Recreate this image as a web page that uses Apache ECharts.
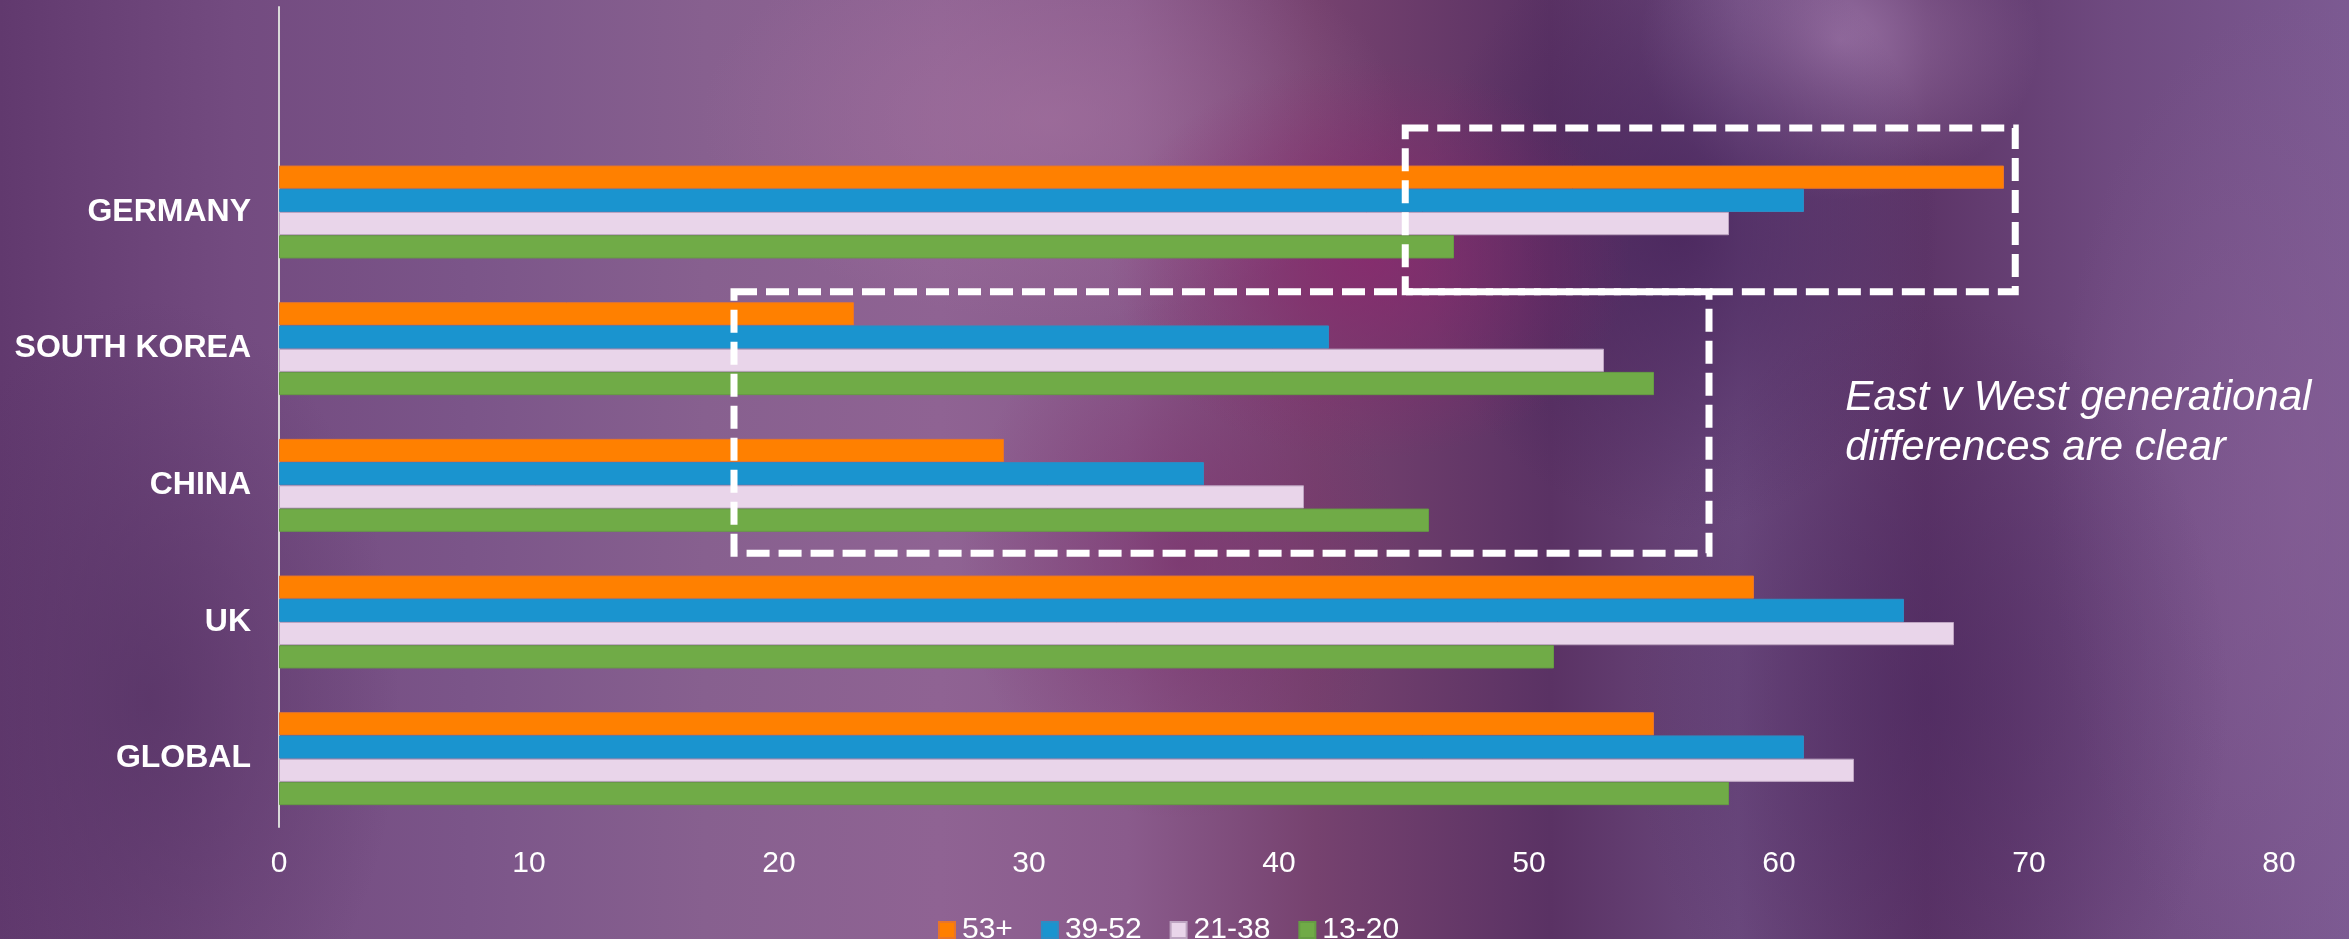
<!DOCTYPE html>
<html>
<head>
<meta charset="utf-8">
<script src="https://cdn.jsdelivr.net/npm/echarts@6/dist/echarts.min.js"></script>
<style>
  html, body { margin: 0; padding: 0; width: 2349px; height: 939px; overflow: hidden; }
  body {
    background:
      radial-gradient(ellipse 260px 200px at 1370px 260px, rgba(140,40,110,0.75), rgba(140,40,110,0) 100%),
      radial-gradient(ellipse 220px 260px at 1180px 560px, rgba(120,40,100,0.55), rgba(120,40,100,0) 100%),
      radial-gradient(ellipse 260px 300px at 1680px 230px, rgba(70,35,90,0.8), rgba(70,35,90,0) 100%),
      radial-gradient(ellipse 200px 160px at 1840px 40px, rgba(170,130,180,0.7), rgba(170,130,180,0) 100%),
      radial-gradient(ellipse 300px 400px at 1930px 700px, rgba(75,40,95,0.6), rgba(75,40,95,0) 100%),
      radial-gradient(ellipse 250px 500px at 2300px 500px, rgba(135,95,150,0.6), rgba(135,95,150,0) 100%),
      radial-gradient(ellipse 350px 200px at 1050px 120px, rgba(165,115,160,0.6), rgba(165,115,160,0) 100%),
      radial-gradient(ellipse 250px 400px at 150px 700px, rgba(85,50,100,0.7), rgba(85,50,100,0) 100%),
      linear-gradient(90deg, #61396e 0%, #734b80 10%, #7b5589 20%, #87608f 30%, #8f6393 40%, #8a5b8c 48%, #76426f 56%, #5a3264 66%, #6c4a7f 74%, #5d3568 82%, #6f4a80 90%, #7c5a92 100%);
  }
  #chart { width: 2349px; height: 939px; }
</style>
</head>
<body>
<div id="chart"></div>
<script>
// ---- data ----
const categories = ['', 'GERMANY', 'SOUTH KOREA', 'CHINA', 'UK', 'GLOBAL'];
const seriesNames = ['53+', '39-52', '21-38', '13-20'];
const values53plus = [null, 69, 23, 29, 59, 55];
const values39to52 = [null, 61, 42, 37, 65, 61];
const values21to38 = [null, 58, 53, 41, 67, 63];
const values13to20 = [null, 47, 55, 46, 51, 58];
const xMin = 0, xMax = 80, xInterval = 10;
const annotationText = 'East v West generational\ndifferences are clear';
// annotation boxes: x in value units, y in category-index units
const boxWest = { x0: 45.05, x1: 69.45, y0: 0.386, y1: 1.583 };
const boxEast = { x0: 18.2, x1: 57.2, y0: 1.583, y1: 3.497 };

const colors = ['#ff8000', '#1a94cf', '#e9d5ea', '#70ab47'];
const borders = ['#e8752a', '#2e8cc4', '#bda4c1', '#669c44'];
const allValues = [values53plus, values39to52, values21to38, values13to20];
const FONT = '"Liberation Sans", Arial, sans-serif';

const chart = echarts.init(document.getElementById('chart'), null, { renderer: 'canvas' });

const option = {
  backgroundColor: 'transparent',
  animation: false,
  grid: { left: 279, right: 70, top: 7, bottom: 112, containLabel: false, outerBoundsMode: 'none' },
  xAxis: {
    type: 'value', min: xMin, max: xMax, interval: xInterval,
    axisLine: { show: false }, axisTick: { show: false }, splitLine: { show: false },
    axisLabel: { color: '#ffffff', fontSize: 30, fontFamily: FONT, margin: 22 }
  },
  yAxis: {
    type: 'category', data: categories, inverse: true,
    axisLine: { show: true, lineStyle: { color: '#d9d9d9', width: 2 } },
    axisTick: { show: false },
    axisLabel: { color: '#ffffff', fontSize: 32, fontWeight: 'bold', fontFamily: FONT, margin: 28 }
  },
  legend: {
    left: 933, top: 910,
    itemWidth: 16, itemHeight: 16, itemGap: 28, icon: 'rect',
    data: seriesNames,
    textStyle: { color: '#ffffff', fontSize: 30, fontFamily: FONT, padding: [0, 0, 0, 2] }
  },
  series: seriesNames.map((name, i) => ({
    name, type: 'bar', data: allValues[i],
    barCategoryGap: '32%', barGap: '0%',
    itemStyle: { color: colors[i], borderColor: borders[i], borderWidth: 1 }
  }))
};
chart.setOption(option);

function yPix(idx) {
  const a = Math.floor(idx), b = a + 1;
  const pa = chart.convertToPixel({ yAxisIndex: 0 }, a);
  const pb = chart.convertToPixel({ yAxisIndex: 0 }, b);
  return pa + (idx - a) * (pb - pa);
}
function xPix(v) { return chart.convertToPixel({ xAxisIndex: 0 }, v); }
function boxShape(b) {
  const x0 = xPix(b.x0), x1 = xPix(b.x1), y0 = yPix(b.y0), y1 = yPix(b.y1);
  return { x: x0, y: y0, width: x1 - x0, height: y1 - y0 };
}
const dashStyle = { fill: null, stroke: '#ffffff', lineWidth: 7, lineDash: [23, 9] };
chart.setOption({
  graphic: [
    { type: 'rect', shape: boxShape(boxWest), style: dashStyle, silent: true, z: 100 },
    { type: 'rect', shape: boxShape(boxEast), style: dashStyle, silent: true, z: 100 },
    { type: 'text', x: xPix(62.65), y: yPix(2.545), z: 100,
      style: { text: annotationText, fill: '#ffffff', fontSize: 42, fontStyle: 'italic',
               fontFamily: FONT, lineHeight: 50, verticalAlign: 'middle', align: 'left' } }
  ]
});
</script>
</body>
</html>
